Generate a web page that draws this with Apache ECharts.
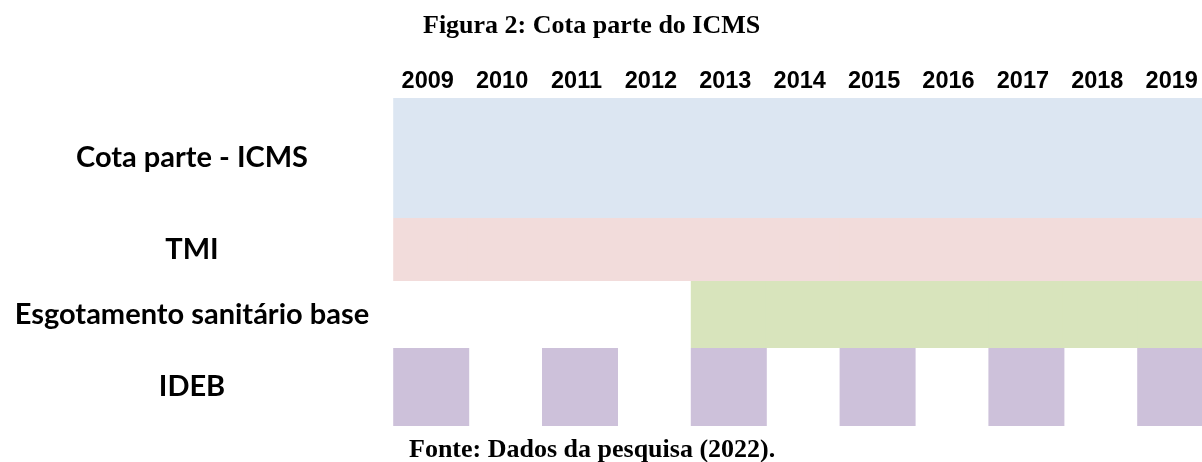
<!DOCTYPE html>
<html>
<head>
<meta charset="utf-8">
<script src="https://cdn.jsdelivr.net/npm/echarts@6/dist/echarts.min.js"></script>
<style>
html,body{margin:0;padding:0;background:#fff;}
#chart{width:1202px;height:462px;}
</style>
</head>
<body>
<div id="chart"></div>
<script>
// ---- data ----
const years = ['2009','2010','2011','2012','2013','2014','2015','2016','2017','2018','2019'];
const rowNames = ['Cota parte - ICMS', 'TMI', 'Esgotamento sanitário base', 'IDEB'];
// 1 = indicator used in that year
const cotaParte   = [1,1,1,1,1,1,1,1,1,1,1];
const tmi         = [1,1,1,1,1,1,1,1,1,1,1];
const esgotamento = [0,0,0,0,1,1,1,1,1,1,1];
const ideb        = [1,0,1,0,1,0,1,0,1,0,1];
const rows = [cotaParte, tmi, esgotamento, ideb];
const colors = ['#DCE6F2', '#F2DCDB', '#D8E4BC', '#CDC1DA'];
const titleText = 'Figura 2: Cota parte do ICMS';
const sourceText = 'Fonte: Dados da pesquisa (2022).';

// ---- layout ----
const gridLeft = 394, colW = 74.4;
const rowTops = [98, 218, 281, 348];
const rowHeights = [120, 63, 67, 78];

const grids = [], xAxes = [], yAxes = [], series = [];
rows.forEach((flags, i) => {
  grids.push({left: gridLeft, top: rowTops[i], width: colW * years.length, height: rowHeights[i],
              containLabel: false, outerBoundsMode: 'none'});
  xAxes.push({
    type: 'category', data: years, gridIndex: i,
    position: 'top',
    show: i === 0,
    axisLine: {show: false}, axisTick: {show: false},
    axisLabel: {show: i === 0, fontFamily: 'Liberation Sans', fontWeight: 'bold', fontSize: 23.5, color: '#000',
                margin: 4, padding: [0, 7, 0, 0]}
  });
  yAxes.push({
    type: 'category', data: [rowNames[i]], gridIndex: i,
    axisLine: {show: false}, axisTick: {show: false}, splitLine: {show: false},
    axisLabel: {fontFamily: 'Lato', fontWeight: 'bold', fontSize: 29, color: '#000', align: 'center',
                margin: gridLeft - 192, padding: [4, 0, 0, 0]}
  });
  const data = [];
  flags.forEach((f, j) => { if (f) data.push([j, 0]); });
  series.push({
    type: 'custom', xAxisIndex: i, yAxisIndex: i,
    data: data,
    renderItem: function (params, api) {
      const c = api.coord([api.value(0), api.value(1)]);
      const s = api.size([1, 1]);
      const w = s[0] + 1.6;
      return {
        type: 'rect',
        shape: {x: c[0] - w / 2, y: c[1] - s[1] / 2, width: w, height: s[1]},
        style: {fill: colors[i]}
      };
    },
    silent: true
  });
});

const chart = echarts.init(document.getElementById('chart'));
chart.setOption({
  backgroundColor: '#fff',
  animation: false,
  title: [
    {text: titleText, left: 418, top: 8,
     textStyle: {fontFamily: 'Liberation Serif', fontWeight: 'bold', fontSize: 26, color: '#000'}},
    {text: sourceText, left: 404, top: 432,
     textStyle: {fontFamily: 'Liberation Serif', fontWeight: 'bold', fontSize: 26, color: '#000'}}
  ],
  grid: grids,
  xAxis: xAxes,
  yAxis: yAxes,
  series: series
});
</script>
</body>
</html>
